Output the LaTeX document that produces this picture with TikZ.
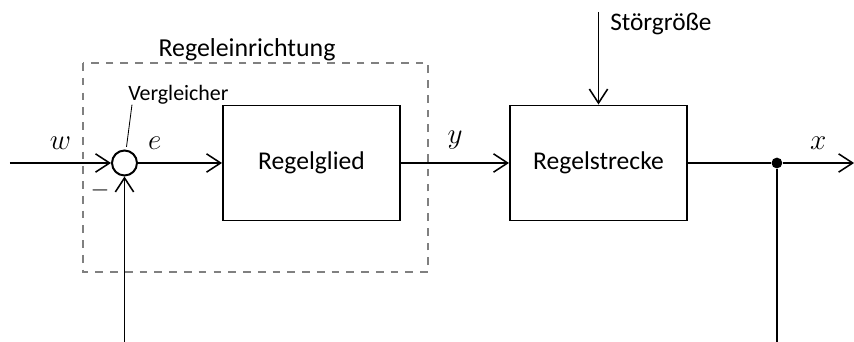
\documentclass[tikz,border=0pt]{standalone}
\usepackage{fontspec}
\setmainfont{Carlito}
\usetikzlibrary{positioning, arrows.meta, calc}

\begin{document}
\begin{tikzpicture}[>={Straight Barb[length=10pt,width=13pt,line width=1.1pt]},
        block/.style={draw, line width=1.4pt, minimum width=4.425cm, minimum height=2.875cm, inner sep=0pt, font=\fontsize{18.2}{22}\selectfont},
        sig/.style={line width=1.1pt},
        group/.style={draw=gray, line width=1.4pt, dash pattern=on 5.5pt off 5pt},
        lbl/.style={font=\fontsize{20}{24}\selectfont, inner sep=0pt, above=0.33cm}]
        \useasboundingbox (-3.1125,-4.475) rectangle (18.2375,4.075);

        % Regeleinrichtung
        \draw[group] (-1.0375,2.5) rectangle (7.5875,-2.725);
        \node[font=\fontsize{18.4}{22}\selectfont] (reg) at (3.0625,2.825) {Regeleinrichtung};

        \node[draw, circle, line width=1.4pt, minimum size=0.625cm, inner sep=0pt] (cmp) at (0,0) {};
        \node[block] (glied) at (4.675,0) {Regelglied};
        \node[block] (strecke) at (11.85,0) {Regelstrecke};
        \node[circle, fill, minimum size=0.27cm, inner sep=0pt] (dot) at (16.31,0) {};

        \coordinate (in) at (-2.8625,0);
        \coordinate (out) at (18.24,0);
        \coordinate (dist) at (11.85,3.775);
        \coordinate (fbl) at (0,-4.6);
        \coordinate (fbr) at (16.31,-4.6);

        \node[font=\fontsize{15.6}{18}\selectfont, anchor=south west, inner sep=0pt] (vgl) at (0.0875,1.46) {Vergleicher};
        \node[font=\fontsize{18}{22}\selectfont, anchor=west, inner sep=0pt] (stoer) at (12.1375,3.475) {Störgröße};

        \path[sig, ->]
        (in) edge node[lbl] {$w$} (cmp)
        (cmp) edge node[lbl, pos=0.2] {$e$} (glied)
        (glied) edge node[lbl] {$y$} (strecke)
        (dot) edge node[lbl] {$x$} (out)
        (dist) edge (strecke)
        (fbl) edge (cmp)
        ;
        \draw[sig] (strecke) -- (dot) -- (fbr);

        \draw[line width=0.6pt, shorten <=2pt] (cmp.83) -- ([xshift=0.1cm]vgl.south west);
        \node[font=\fontsize{17}{20}\selectfont] (minus) at (-0.6125,-0.675) {$-$};
    \end{tikzpicture}
\end{document}
